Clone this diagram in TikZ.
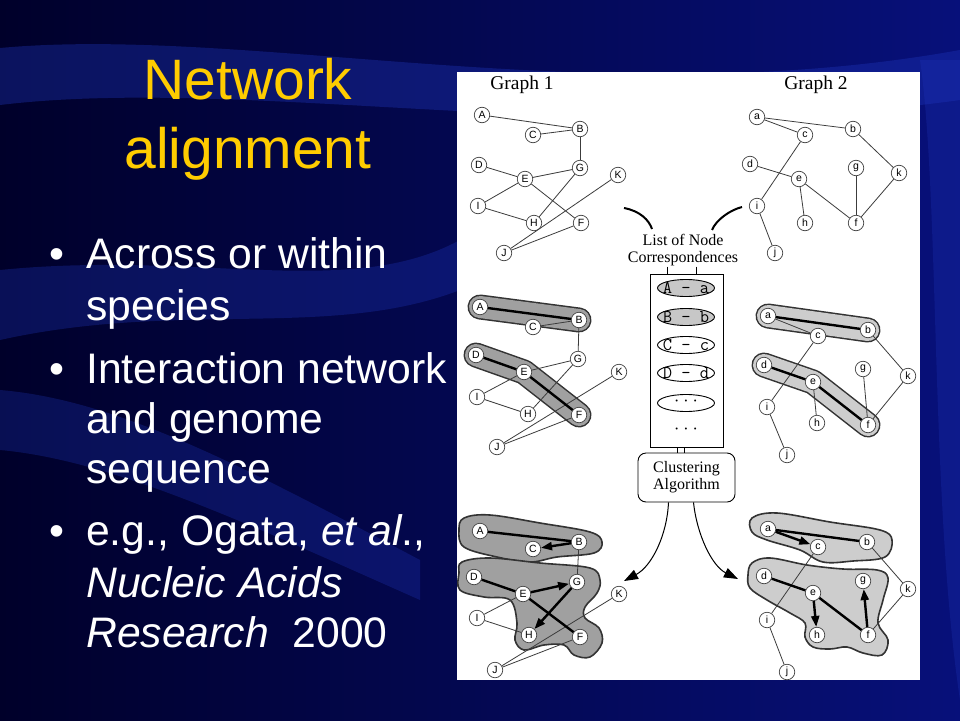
\documentclass[tikz,border=0pt]{standalone}
\usepackage{fontspec}
\setmainfont{Liberation Sans}
\newfontfamily\gserif{Liberation Serif}
\newfontfamily\gmono{Latin Modern Mono}
\usetikzlibrary{arrows.meta,shapes.geometric,calc}
\pgfdeclarelayer{bg}
\pgfsetlayers{bg,main}
\definecolor{bgdark}{HTML}{00002A}
\definecolor{bgmid}{HTML}{07107A}
\definecolor{bgwave}{HTML}{2038C0}
\definecolor{titleyel}{HTML}{FFCC00}
\definecolor{clusL}{HTML}{A0A0A0}
\definecolor{clusR}{HTML}{CDCDCD}
\definecolor{edgegray}{HTML}{3C3C3C}
\tikzset{
  gn/.style={circle,draw=black!75,line width=0.7pt,fill=white,minimum size=15.5pt,inner sep=0pt,font=\fontsize{10.5}{11}\selectfont},
  ed/.style={draw=edgegray,line width=0.8pt},
  thk/.style={draw=black,line width=2.4pt},
  arr/.style={draw=black,line width=2.4pt,-{Triangle[length=11pt,width=8pt]}},
  capsout/.style={line width=25pt,draw=black!80,line cap=round,line join=round},
  capsinL/.style={line width=22pt,draw=clusL,line cap=round,line join=round},
  capsinR/.style={line width=22pt,draw=clusR,line cap=round,line join=round},
  blobL/.style={draw=black!80,line width=1.6pt,fill=clusL},
  blobR/.style={draw=black!80,line width=1.6pt,fill=clusR},
  ttl/.style={text=titleyel,font=\fontsize{57}{64}\selectfont,inner sep=0pt},
  bul/.style={text=white,font=\fontsize{42.7}{50}\selectfont,inner sep=0pt},
  glabel/.style={font=\gserif\fontsize{19.5}{22}\selectfont,inner sep=0pt},
  corr/.style={ellipse,draw=black,line width=0.9pt,minimum width=57pt,minimum height=17pt,inner sep=0pt},
  corrtxt/.style={font=\gmono\fontsize{18}{18}\selectfont,inner sep=0pt},
  boxtxt/.style={font=\gserif\fontsize{16}{17}\selectfont,align=center,inner sep=0pt},
  curvy/.style={draw=black,line width=2pt},
  carr/.style={draw=black,line width=1pt,-{Triangle[length=14pt,width=10pt]}}
}
\begin{document}
\begin{tikzpicture}[x=1pt,y=-1pt]
\useasboundingbox (0,0) rectangle (960,720);
\begin{pgfonlayer}{bg}
\shade[left color=bgdark,right color=bgmid] (0,0) rectangle (960,720);
\fill[bgwave,opacity=0.35] (0,48) .. controls (250,25) and (600,115) .. (960,50) -- (960,100) .. controls (600,150) and (250,75) .. (0,105) -- cycle;
\fill[bgwave,opacity=0.30] (0,270) .. controls (200,250) and (350,300) .. (460,240) -- (460,290) .. controls (330,340) and (180,300) .. (0,340) -- cycle;
\fill[bgwave,opacity=0.28] (0,390) .. controls (120,400) and (250,470) .. (420,560) -- (420,600) .. controls (240,520) and (110,460) .. (0,450) -- cycle;
\fill[bgwave,opacity=0.25] (920,60) .. controls (940,200) and (930,500) .. (960,700) -- (960,60) -- cycle;
\fill[white] (457,72) rectangle (920,680);
\end{pgfonlayer}

% slide text
\node[ttl,anchor=base] (title1) at (248,99) {Network};
\node[ttl,anchor=base] (title2) at (248,168) {alignment};
\node[bul,anchor=base west] (b1) at (49.5,268) {•};
\node[bul,anchor=base west] (t1) at (86,268) {Across or within};
\node[bul,anchor=base west] (t2) at (86,320) {species};
\node[bul,anchor=base west] (b2) at (49.5,383) {•};
\node[bul,anchor=base west] (t3) at (86,383) {Interaction network};
\node[bul,anchor=base west] (t4) at (86,433) {and genome};
\node[bul,anchor=base west] (t5) at (86,483) {sequence};
\node[bul,anchor=base west] (b3) at (49.5,545) {•};
\node[bul,anchor=base west] (t6) at (86,545) {e.g., Ogata, \textit{et al}.,};
\node[bul,anchor=base west] (t7) at (86,597) {\textit{Nucleic Acids}};
\node[bul,anchor=base west] (t8) at (86,647) {\textit{Research}\ \ 2000};

% graph labels
\node[glabel] (g1lab) at (522,85) {Graph 1};
\node[glabel] (g2lab) at (816,85) {Graph 2};

% nodes
\foreach \n/\x/\y in {A/482/115,B/580/129,C/533/135,D/479/165,E/525/179,G/580/168,K/618/175,I/478/206,H/534/223,F/581/223,J/504/253}
  \node[gn] (p1\n) at (\x,\y) {\n};
\foreach \n/\x/\y in {a/757/117,b/853/129,c/805/135,d/750/164,e/799/179,g/856/168,k/899/173,i/757/206,h/805/223,f/856/223,j/775/253}
  \node[gn] (q1\n) at (\x,\y) {\n};
\foreach \n/\x/\y in {A/480/307,B/579/320,C/533/327,D/476/355,E/524/372,G/578/359,K/619/372,I/477/397,H/528/414,F/579/415,J/497/447}
  \node[gn] (p2\n) at (\x,\y) {\n};
\foreach \n/\x/\y in {a/768/316,b/868/330,c/818/336,d/764/365,e/813/382,g/863/369,k/908/376,i/767/407,h/817/423,f/868/425,j/787/455}
  \node[gn] (q2\n) at (\x,\y) {\n};
\foreach \n/\x/\y in {A/480/531,B/579/542,C/533/549,D/474/577,E/523/594,G/577/582,K/619/594,I/477/618,H/529/635,F/580/637,J/495/670}
  \node[gn] (p3\n) at (\x,\y) {\n};
\foreach \n/\x/\y in {a/768/529,b/867/542,c/818/547,d/764/576,e/813/593,g/863/581,k/908/589,i/767/620,h/817/635,f/868/635,j/787/672}
  \node[gn] (q3\n) at (\x,\y) {\n};

% clusters
\begin{pgfonlayer}{bg}
\draw[capsout] (p2A.center) -- (p2B.center);
\draw[capsinL] (p2A.center) -- (p2B.center);
\draw[capsout] (p2D.center) -- (p2E.center) -- (p2F.center);
\draw[capsinL] (p2D.center) -- (p2E.center) -- (p2F.center);
\draw[capsout] (q2a.center) -- (q2b.center);
\draw[capsinR] (q2a.center) -- (q2b.center);
\draw[capsout] (q2d.center) -- (q2e.center) -- (q2f.center);
\draw[capsinR] (q2d.center) -- (q2e.center) -- (q2f.center);
\draw[blobL] plot[smooth cycle,tension=0.6] coordinates {(464,518) (490,515) (540,523) (590,532) (602,542) (594,553) (557,557) (530,562) (497,557) (464,547) (459,530)};
\draw[blobL] plot[smooth cycle,tension=0.6] coordinates {(462,562) (490,558) (540,563) (590,568) (600,580) (597,593) (585,607) (585,618) (599,628) (602,643) (590,657) (574,655) (564,645) (544,645) (524,650) (515,640) (517,623) (510,600) (484,597) (460,590) (459,573)};
\draw[blobR] plot[smooth cycle,tension=0.6] coordinates {(752,518) (777,513) (830,522) (880,530) (892,540) (885,557) (853,561) (823,562) (800,550) (767,540) (752,532)};
\draw[blobR] plot[smooth cycle,tension=0.6] coordinates {(748,575) (752,563) (770,558) (807,565) (843,569) (877,570) (888,578) (883,600) (878,623) (888,640) (882,655) (863,653) (847,647) (830,649) (813,647) (805,637) (805,623) (790,613) (767,600) (750,588)};
\end{pgfonlayer}

% edges row 1
\foreach \u/\v in {A/B,C/B,B/G,D/E,E/G,E/F,I/E,I/H,H/G,J/K,J/F}
  \draw[ed] (p1\u) -- (p1\v);
\foreach \u/\v in {a/b,a/c,c/i,d/e,e/f,e/h,g/f,b/k,k/f,i/j}
  \draw[ed] (q1\u) -- (q1\v);
% edges row 2
\foreach \u/\v in {C/B,B/G,E/G,I/E,I/H,H/G,J/K,J/F}
  \draw[ed] (p2\u) -- (p2\v);
\foreach \u/\v in {A/B,D/E,E/F}
  \draw[thk] (p2\u) -- (p2\v);
\foreach \u/\v in {a/c,c/i,e/h,g/f,b/k,k/f,i/j}
  \draw[ed] (q2\u) -- (q2\v);
\foreach \u/\v in {a/b,d/e,e/f}
  \draw[thk] (q2\u) -- (q2\v);
% edges row 3
\foreach \u/\v in {B/G,I/E,I/H,J/K,J/F}
  \draw[ed] (p3\u) -- (p3\v);
\foreach \u/\v in {A/B,D/E,E/F}
  \draw[thk] (p3\u) -- (p3\v);
\foreach \u/\v in {B/C,E/G,G/H}
  \draw[arr] (p3\u) -- (p3\v);
\foreach \u/\v in {c/i,b/k,k/f,i/j}
  \draw[ed] (q3\u) -- (q3\v);
\foreach \u/\v in {a/b,d/e,e/f}
  \draw[thk] (q3\u) -- (q3\v);
\foreach \u/\v in {a/c,e/h,f/g}
  \draw[arr] (q3\u) -- (q3\v);

% correspondence list
\node[boxtxt] (lbl) at (683,250) {List of Node\\Correspondences};
\node[draw=black,line width=0.9pt,minimum width=73pt,minimum height=173pt,inner sep=0pt] (listbox) at (686.5,360.5) {};
\node[corr,fill=black!22,label={[corrtxt]center:A - a}] (cAa) at (686,288) {};
\node[corr,fill=black!22,label={[corrtxt]center:B - b}] (cBb) at (686,317) {};
\node[corr,fill=white,label={[corrtxt]center:C - c}] (cCc) at (686,345) {};
\node[corr,fill=white,label={[corrtxt]center:D - d}] (cDd) at (686,373) {};
\node[corr,fill=white,label={[corrtxt]center:···}] (cdots) at (686,403) {};
\node[corrtxt] (pdots) at (686,431) {···};
\draw[line width=0.8pt] ($(listbox.north)+(-19.5,-7)$) -- ($(listbox.north)+(-19.5,0)$);
\draw[line width=0.8pt] ($(listbox.north)+(9.5,-7)$) -- ($(listbox.north)+(9.5,0)$);
\node[draw=black,line width=0.9pt,rounded corners=8pt,minimum width=97pt,minimum height=49pt,boxtxt] (clus) at (686.5,477.5) {Clustering\\Algorithm};
\draw[line width=0.8pt] ($(listbox.south)+(-9.5,0)$) -- ($(clus.north)+(-9.5,0)$);
\draw[line width=0.8pt] ($(listbox.south)+(-2.5,0)$) -- ($(clus.north)+(-2.5,0)$);

% curved pointers into the list label
\coordinate (lc0) at (624,208);
\coordinate (lc1) at (652,229);
\coordinate (rc0) at (742,207);
\coordinate (rc1) at (712,230);
\draw[curvy] (lc0) .. controls (640,211) and (649,220) .. (lc1);
\draw[curvy] (rc0) .. controls (730,210) and (716,220) .. (rc1);

% arrows from clustering
\coordinate (al) at (624,581);
\coordinate (ar) at (738,579);
\draw[carr] ($(clus.south)+(-18,0)$) .. controls (667,535) and (652,566) .. (al);
\draw[carr] ($(clus.south)+(7,0)$) .. controls (697,535) and (712,566) .. (ar);
\end{tikzpicture}
\end{document}
